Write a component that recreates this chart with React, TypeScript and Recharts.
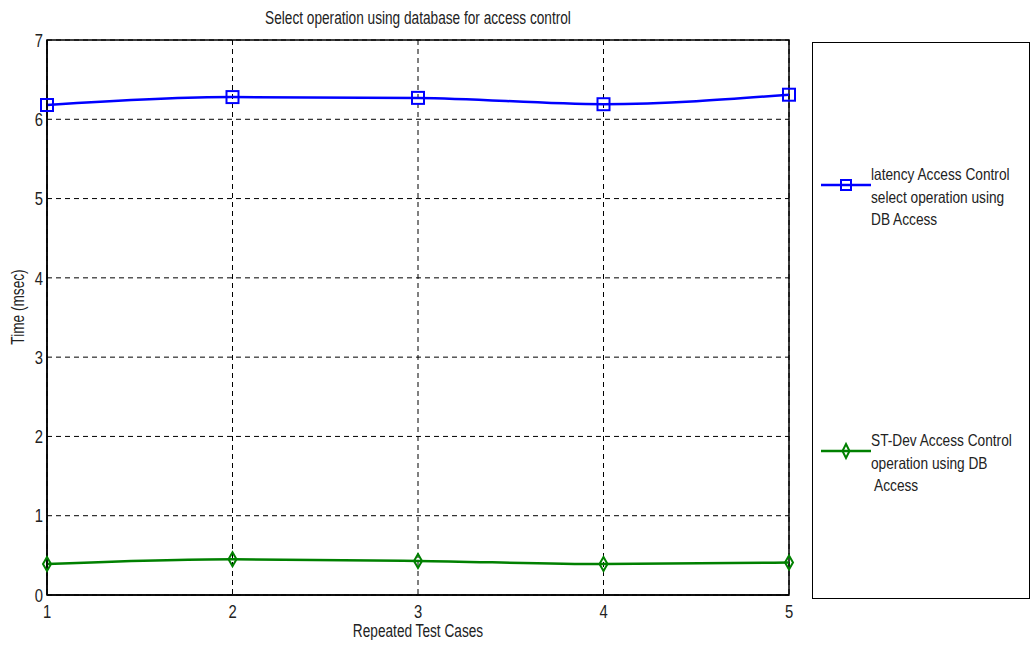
import React from 'react';
import { LineChart, Line, XAxis, YAxis, CartesianGrid, ReferenceArea } from 'recharts';

const testCases = [1, 2, 3, 4, 5];
const latencyValues = [6.18, 6.28, 6.27, 6.19, 6.31];
const stdevValues = [0.39, 0.45, 0.43, 0.39, 0.41];
const yTicks = [0, 1, 2, 3, 4, 5, 6, 7];
const latencyName = ['latency Access Control', 'select operation using', 'DB Access'];
const stdevName = ['ST-Dev Access Control', 'operation using DB', ' Access'];
const titleText = 'Select operation using database for access control';
const xLabel = 'Repeated Test Cases';
const yLabel = 'Time (msec)';

const data = testCases.map((c, i) => ({ c, latency: latencyValues[i], stdev: stdevValues[i] }));

const FONT = '"Liberation Sans", Arial, sans-serif';
const BLUE = '#0000ff';
const GREEN = '#008000';
const TXT = '#222';
const SX = 0.78;

const SquareDot = (props: any) => {
  const { cx, cy } = props;
  if (cx == null || cy == null) return null;
  return <rect x={cx - 6} y={cy - 6} width={12} height={12} fill="none" stroke={BLUE} strokeWidth={2} />;
};

const DiamondDot = (props: any) => {
  const { cx, cy } = props;
  if (cx == null || cy == null) return null;
  return (
    <path d={`M${cx},${cy - 7} L${cx + 4},${cy} L${cx},${cy + 7} L${cx - 4},${cy} Z`} fill="none" stroke={GREEN} strokeWidth={2} />
  );
};

const XTick = (props: any) => {
  const { x, y, payload } = props;
  return (
    <g transform={`translate(${x},${y})`}>
      <text transform={`scale(${SX},1)`} textAnchor="middle" dy="0.71em" fontFamily={FONT} fontSize={19} fill={TXT}>
        {payload.value}
      </text>
    </g>
  );
};

const YTick = (props: any) => {
  const { x, y, payload } = props;
  return (
    <g transform={`translate(${x},${y})`}>
      <text transform={`scale(${SX},1)`} textAnchor="end" dy="0.355em" fontFamily={FONT} fontSize={19} fill={TXT}>
        {payload.value}
      </text>
    </g>
  );
};

const Legend = () => {
  const entry = (lines: string[], color: string, marker: 'square' | 'diamond', top: number) => (
    <div style={{ position: 'absolute', left: 0, top, width: 218 }}>
      <svg width={56} height={24} style={{ position: 'absolute', left: 6, top: 10 }}>
        <line x1={2} y1={12} x2={52} y2={12} stroke={color} strokeWidth={2.5} />
        {marker === 'square' ? (
          <rect x={22} y={7} width={10} height={10} fill="none" stroke={color} strokeWidth={2} />
        ) : (
          <path d="M27,5 L30.5,12 L27,19 L23.5,12 Z" fill="none" stroke={color} strokeWidth={2} />
        )}
      </svg>
      <div
        style={{
          position: 'absolute',
          left: 58,
          top: 0,
          fontFamily: FONT,
          fontSize: 16.5,
          lineHeight: '22.5px',
          color: TXT,
          whiteSpace: 'pre',
          transform: 'scaleX(0.83)',
          transformOrigin: 'left top',
        }}
      >
        {lines.map((l, i) => (
          <div key={i}>{l}</div>
        ))}
      </div>
    </div>
  );
  return (
    <div
      style={{
        position: 'absolute',
        left: 804,
        top: 34,
        width: 218,
        height: 557,
        border: '1.5px solid #000',
        boxSizing: 'border-box',
        background: '#fff',
      }}
    >
      {entry(latencyName, BLUE, 'square', 120)}
      {entry(stdevName, GREEN, 'diamond', 386)}
    </div>
  );
};

const textStyle: React.CSSProperties = {
  position: 'absolute',
  fontFamily: FONT,
  fontSize: 17.5,
  color: TXT,
  whiteSpace: 'nowrap',
  lineHeight: '20px',
};

export default function App() {
  return (
    <div style={{ position: 'absolute', left: 8, top: 8, width: 1024, height: 632, background: '#fff', overflow: 'hidden' }}>
      <div style={{ ...textStyle, left: 410, top: 0, transform: `translateX(-50%) scaleX(${SX})` }}>{titleText}</div>
      <div style={{ ...textStyle, left: 410, top: 613, transform: `translateX(-50%) scaleX(${SX})` }}>{xLabel}</div>
      <div
        style={{
          ...textStyle,
          left: 10,
          top: 299,
          transform: `translate(-50%, -50%) rotate(-90deg) scaleX(${SX})`,
        }}
      >
        {yLabel}
      </div>
      <div style={{ position: 'absolute', left: 0, top: 0 }}>
        <LineChart width={1024} height={632} data={data} margin={{ top: 32, right: 243, bottom: 0, left: 0 }}>
          <CartesianGrid stroke="#000" strokeDasharray="5 4" strokeWidth={1} horizontalValues={yTicks} verticalValues={testCases} />
          <XAxis
            dataKey="c"
            type="number"
            domain={[1, 5]}
            ticks={testCases}
            height={45}
            tickSize={0}
            tickMargin={9}
            axisLine={{ stroke: '#000', strokeWidth: 1.5 }}
            tick={<XTick />}
          />
          <YAxis
            type="number"
            domain={[0, 7]}
            ticks={yTicks}
            width={39}
            tickSize={0}
            tickMargin={4}
            axisLine={{ stroke: '#000', strokeWidth: 1.5 }}
            tick={<YTick />}
          />
          <ReferenceArea x1={1} x2={5} y1={0} y2={7} fill="none" stroke="#000" strokeWidth={1.5} ifOverflow="visible" />
          <Line type="monotone" dataKey="latency" stroke={BLUE} strokeWidth={2.5} dot={<SquareDot />} isAnimationActive={false} />
          <Line type="monotone" dataKey="stdev" stroke={GREEN} strokeWidth={2.5} dot={<DiamondDot />} isAnimationActive={false} />
        </LineChart>
      </div>
      <Legend />
    </div>
  );
}
